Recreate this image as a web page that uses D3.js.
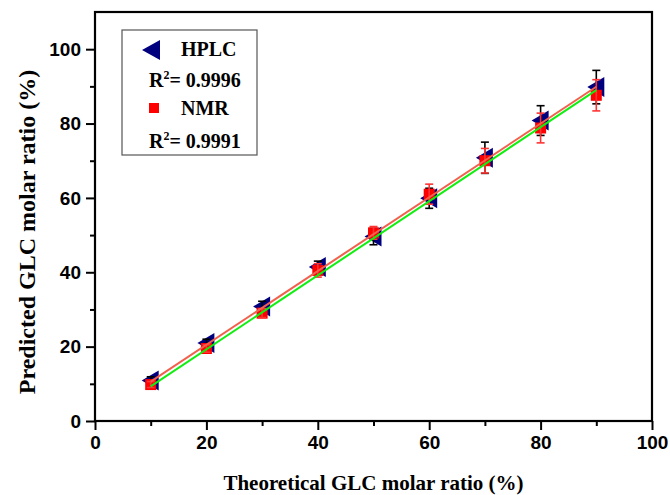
<!DOCTYPE html>
<html>
<head>
<meta charset="utf-8">
<script src="https://cdn.jsdelivr.net/npm/d3@7"></script>
<style>
  body { margin: 0; background: #fff; }
  svg { display: block; }
  .tick text { font-family: "Liberation Sans", Arial, sans-serif; font-weight: bold; font-size: 19px; fill: #000; }
  .title { font-family: "Liberation Serif", "Times New Roman", serif; font-weight: bold; font-size: 21px; fill: #000; }
  .ytitle { font-size: 24px; }
  .leg { font-family: "Liberation Serif", "Times New Roman", serif; font-weight: bold; font-size: 20px; fill: #000; }
</style>
</head>
<body>
<script>
// data
var theoretical = [10, 20, 30, 40, 50, 60, 70, 80, 90];
var hplc = [10.9, 21.0, 30.8, 41.4, 49.6, 59.9, 70.8, 80.8, 89.8];
var hplcErr = [1.0, 1.0, 1.4, 1.6, 2.2, 2.7, 4.2, 4.0, 4.5];
var nmr = [9.8, 19.5, 29.0, 40.5, 50.6, 61.0, 70.0, 78.8, 87.6];
var nmrErr = [0.8, 1.0, 1.2, 1.8, 1.7, 2.7, 3.3, 4.0, 4.2];
var fitX = [10, 90];
var hplcFit = [10.6, 89.9];
var nmrFit = [9.3, 89.0];
var xTicks = [0, 20, 40, 60, 80, 100];
var yTicks = [0, 20, 40, 60, 80, 100];

var W = 670, H = 495;
var pLeft = 95, pRight = 652, pTop = 12, pBottom = 421;

var x = d3.scaleLinear().domain([0, 100]).range([pLeft, pRight]);
var y = d3.scaleLinear().domain([0, 110]).range([pBottom, pTop]);

var svg = d3.select("body").append("svg")
  .attr("width", W).attr("height", H);

// minor ticks
svg.append("g")
  .attr("transform", "translate(0," + pBottom + ")")
  .call(d3.axisBottom(x).tickValues(d3.range(10, 100, 20)).tickSize(5).tickFormat(""))
  .call(g => g.select(".domain").remove())
  .selectAll("line").attr("stroke-width", 2);
svg.append("g")
  .attr("transform", "translate(" + pLeft + ",0)")
  .call(d3.axisLeft(y).tickValues(d3.range(10, 110, 20)).tickSize(5).tickFormat(""))
  .call(g => g.select(".domain").remove())
  .selectAll("line").attr("stroke-width", 2);

// major ticks
var xAxis = svg.append("g")
  .attr("transform", "translate(0," + pBottom + ")")
  .call(d3.axisBottom(x).tickValues(xTicks).tickSize(9).tickPadding(6));
xAxis.select(".domain").remove();
xAxis.selectAll("line").attr("stroke-width", 2);

var yAxis = svg.append("g")
  .attr("transform", "translate(" + pLeft + ",0)")
  .call(d3.axisLeft(y).tickValues(yTicks).tickSize(9).tickPadding(5));
yAxis.select(".domain").remove();
yAxis.selectAll("line").attr("stroke-width", 2);

// frame
svg.append("rect")
  .attr("x", pLeft).attr("y", pTop)
  .attr("width", pRight - pLeft).attr("height", pBottom - pTop)
  .attr("fill", "none").attr("stroke", "#000").attr("stroke-width", 2.2);

var plot = svg.append("g");

function errBars(vals, errs, color) {
  var g = plot.append("g").attr("stroke", color).attr("stroke-width", 1.6);
  theoretical.forEach(function (t, i) {
    var cx = x(t), y1 = y(vals[i] + errs[i]), y2 = y(vals[i] - errs[i]);
    g.append("line").attr("x1", cx).attr("x2", cx).attr("y1", y1).attr("y2", y2);
    g.append("line").attr("x1", cx - 4).attr("x2", cx + 4).attr("y1", y1).attr("y2", y1);
    g.append("line").attr("x1", cx - 4).attr("x2", cx + 4).attr("y1", y2).attr("y2", y2);
  });
}

function triangle(cx, cy) {
  return "M" + (cx - 9) + "," + cy + "L" + (cx + 8) + "," + (cy - 10) + "L" + (cx + 8) + "," + (cy + 10) + "Z";
}

// HPLC triangles
plot.append("g").selectAll("path")
  .data(hplc).enter().append("path")
  .attr("d", function (d, i) { return triangle(x(theoretical[i]), y(d)); })
  .attr("fill", "#00007f");
errBars(hplc, hplcErr, "#000");

// NMR squares
plot.append("g").selectAll("rect")
  .data(nmr).enter().append("rect")
  .attr("x", function (d, i) { return x(theoretical[i]) - 5.5; })
  .attr("y", function (d) { return y(d) - 5.5; })
  .attr("width", 11).attr("height", 11)
  .attr("fill", "#ff0000");
errBars(nmr, nmrErr, "#ff3333");

// fit lines
var line = d3.line()
  .x(function (d) { return x(d[0]); })
  .y(function (d) { return y(d[1]); });
plot.append("path")
  .attr("d", line(fitX.map(function (t, i) { return [t, nmrFit[i]]; })))
  .attr("stroke", "#11ee11").attr("stroke-width", 2).attr("fill", "none");
plot.append("path")
  .attr("d", line(fitX.map(function (t, i) { return [t, hplcFit[i]]; })))
  .attr("stroke", "#f0604c").attr("stroke-width", 2).attr("fill", "none");

// axis titles
svg.append("text").attr("class", "title")
  .attr("x", (pLeft + pRight) / 2).attr("y", 490)
  .attr("text-anchor", "middle")
  .text("Theoretical GLC molar ratio (%)");
svg.append("text").attr("class", "title ytitle")
  .attr("transform", "translate(35,232) rotate(-90)")
  .attr("text-anchor", "middle")
  .text("Predicted GLC molar ratio (%)");

// legend
var leg = svg.append("g");
leg.append("rect")
  .attr("x", 122).attr("y", 30).attr("width", 135).attr("height", 125)
  .attr("fill", "#fff").attr("stroke", "#555").attr("stroke-width", 1.2);
leg.append("path").attr("d", "M142,50L160,40L160,60Z").attr("fill", "#00007f");
leg.append("text").attr("class", "leg").attr("x", 181).attr("y", 56).text("HPLC");
var r1 = leg.append("text").attr("class", "leg").attr("x", 149).attr("y", 87);
r1.append("tspan").text("R");
r1.append("tspan").attr("font-size", 12).attr("dy", -8).text("2");
r1.append("tspan").attr("dy", 8).text("= 0.9996");
leg.append("rect").attr("x", 149).attr("y", 103).attr("width", 10).attr("height", 10).attr("fill", "#ff0000");
leg.append("text").attr("class", "leg").attr("x", 181).attr("y", 115).text("NMR");
var r2 = leg.append("text").attr("class", "leg").attr("x", 149).attr("y", 148);
r2.append("tspan").text("R");
r2.append("tspan").attr("font-size", 12).attr("dy", -8).text("2");
r2.append("tspan").attr("dy", 8).text("= 0.9991");
</script>
</body>
</html>
